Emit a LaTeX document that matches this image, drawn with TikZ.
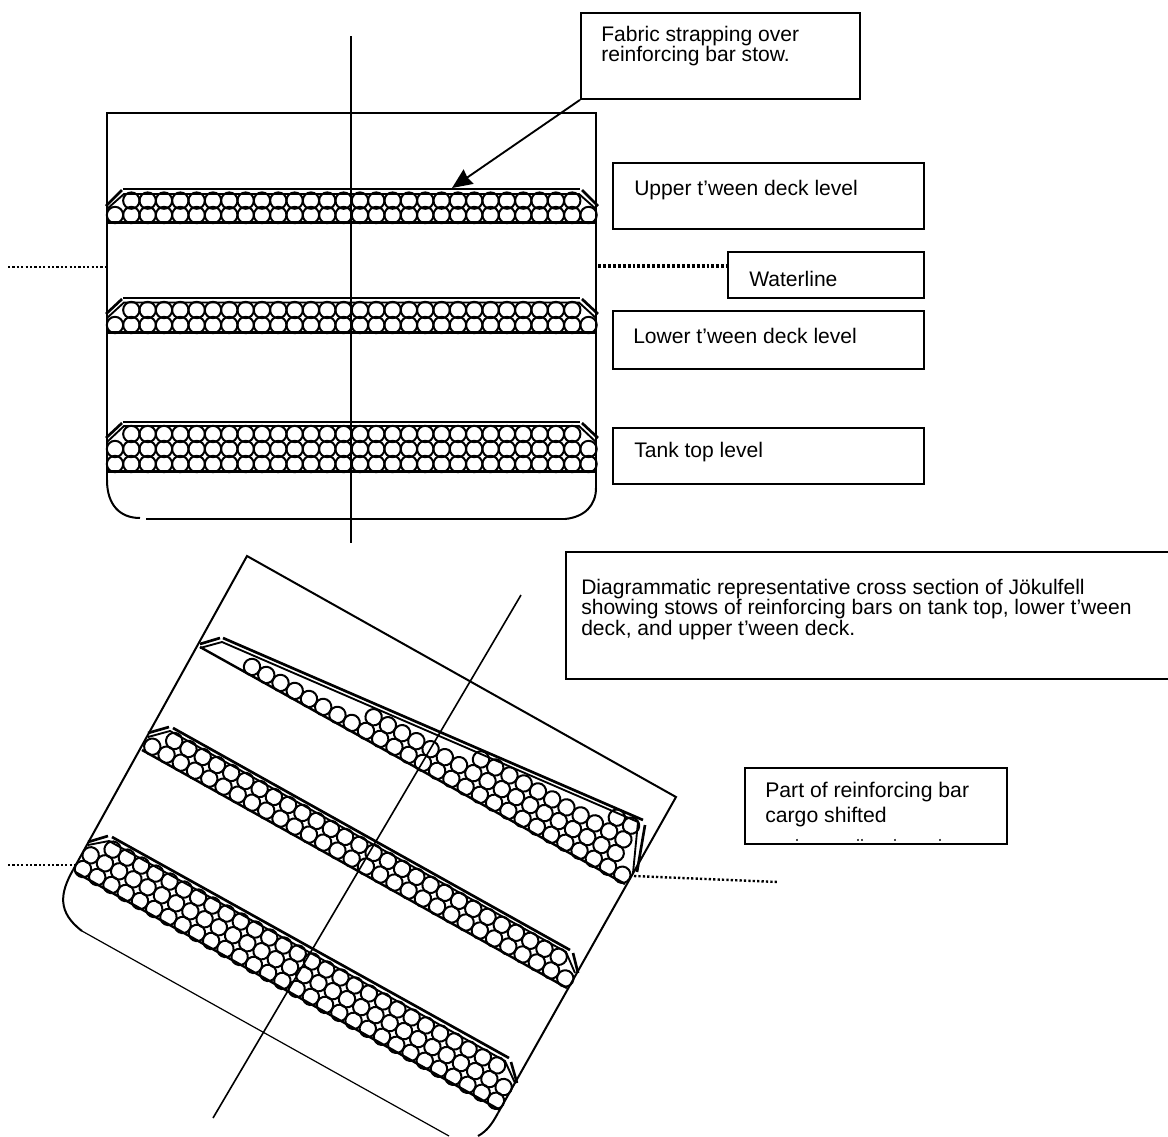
\documentclass[tikz,border=0pt]{standalone}
\usepackage{fontspec}
\setmainfont{Liberation Sans}
\usetikzlibrary{arrows.meta}
\tikzset{
  hull/.style={draw=black,line width=1.5pt,line join=miter},
  thinhull/.style={draw=black,line width=0.9pt},
  centre/.style={draw=black,line width=1.2pt},
  bar/.style={draw=black,line width=1.5pt},
  strapline/.style={draw=black,line width=2pt,line join=miter},
  innerstrap/.style={draw=black,line width=1.4pt,line join=miter},
  deckline/.style={draw=black,line width=1.8pt},
  box/.style={draw=black,line width=1.4pt,fill=white,rectangle,inner sep=0pt,anchor=north west},
  lbl/.style={font=\fontsize{15.8pt}{15.2pt}\selectfont,align=left,inner sep=0pt,anchor=north west},
  wline/.style={draw=black,line width=1.8pt,dash pattern=on 1.7pt off 1.6pt},
  wlinethick/.style={draw=black,line width=2.4pt,dash pattern=on 2.2pt off 1.5pt},
  leader/.style={draw=black,line width=1.4pt,-{Stealth[length=15pt,width=13pt,inset=1pt]}},
  level/.style={x={(0.75pt,0pt)},y={(0pt,0.75pt)}},
  listed/.style={x={(0.654pt,-0.367pt)},y={(0.367pt,0.654pt)}}
}
\newcommand{\barrow}[3]{\foreach \k in {#2,...,#3}{\draw[bar] (\k*16.33,#1*\rowstep) circle (8.2);}}
\begin{document}
\begin{tikzpicture}[x=0.75pt,y=-0.75pt]
\useasboundingbox (0,0) rectangle (1168,1136);
% ---------- upright hull
\draw[hull] (107,480) -- (107,113) -- (596,113) -- (596,488);
\draw[hull] (107,480) .. controls (107,505) and (120,518) .. (140,518);
\draw[hull] (146,519) -- (565,519);
\draw[hull] (596,488) .. controls (596,505) and (585,517) .. (565,519);
\draw[centre] (351,36) -- (351,543);
% upper t'ween stow
\begin{scope}[shift={(115,215)},level]
\def\rowstep{14.4}
\barrow{0}{0}{29}\barrow{1}{1}{28}
\end{scope}
\draw[deckline] (107,222.5) -- (596,222.5);
\draw[strapline] (123,189) -- (580,189);
\draw[strapline] (106,206) -- (122,190);
\draw[strapline] (582,190) -- (598,206);
\draw[innerstrap] (107,209) -- (124,194) -- (579,194) -- (596,209);
% lower t'ween stow
\begin{scope}[shift={(115,325)},level]
\def\rowstep{15}
\barrow{0}{0}{29}\barrow{1}{1}{28}
\end{scope}
\draw[deckline] (107,332.5) -- (596,332.5);
\draw[strapline] (123,298) -- (580,298);
\draw[strapline] (106,314) -- (122,299);
\draw[strapline] (582,299) -- (598,314);
\draw[innerstrap] (107,318) -- (124,302.5) -- (579,302.5) -- (596,318);
% tank top stow
\begin{scope}[shift={(115,464)},level]
\def\rowstep{15}
\barrow{0}{0}{29}\barrow{1}{0}{29}\barrow{2}{1}{28}
\end{scope}
\draw[deckline] (107,471.5) -- (596,471.5);
\draw[strapline] (123,422) -- (580,422);
\draw[strapline] (106,438) -- (122,423);
\draw[strapline] (582,423) -- (598,438);
\draw[innerstrap] (107,442) -- (124,426) -- (579,426) -- (596,442);
% ---------- listed hull
\draw[hull] (73,870) -- (247,556) -- (676,797) -- (498,1113);
\draw[hull] (73,870) .. controls (60,893) and (57,912) .. (82,931);
\draw[thinhull] (82,931) -- (449,1136);
\draw[hull] (498,1113) .. controls (492,1124) and (487,1131) .. (478,1136);
\draw[centre] (521,595) -- (213,1118);
% upper stow after shifting
\begin{scope}[shift={(209.3,643)},listed]
\def\rowstep{15.7}
\barrow{0}{3}{29}\barrow{1}{11}{28}\barrow{2}{18}{28}\barrow{3}{27}{28}
\end{scope}
\draw[deckline] (200,647) -- (625,884);
\draw[strapline] (200,644) -- (220,638);
\draw[strapline] (223,638) -- (643,820);
\draw[strapline] (645,825) -- (637,872);
\draw[innerstrap] (200,648) -- (222,642) -- (638,822) -- (633,873);
% lower stow after shifting
\begin{scope}[shift={(152.3,746.7)},listed]
\def\rowstep{15.7}
\barrow{0}{0}{29}\barrow{1}{1}{28}
\end{scope}
\draw[deckline] (142,750) -- (567,988);
\draw[strapline] (148,733) -- (169,727);
\draw[strapline] (173,728) -- (570,950);
\draw[strapline] (573,953) -- (578,973);
\draw[innerstrap] (148,737) -- (170,731) -- (566,952) -- (575,973);
% tank top stow after shifting
\begin{scope}[shift={(83,869)},listed]
\def\rowstep{15.7}
\barrow{0}{0}{29}\barrow{1}{0}{29}\barrow{2}{1}{28}
\end{scope}
\draw[deckline] (75,872) -- (500,1110);
\draw[strapline] (88,842) -- (108,836);
\draw[strapline] (112,837) -- (509,1058);
\draw[strapline] (511,1062) -- (517,1083);
\draw[innerstrap] (88,845) -- (109,841) -- (505,1061) -- (515,1083);
% ---------- boxes
\node[box,minimum width=279*0.75pt,minimum height=86*0.75pt] (fabric) at (580,12) {};
\node[lbl] at (601,26) {Fabric strapping over\\reinforcing bar stow.};
\node[box,minimum width=311*0.75pt,minimum height=66*0.75pt] (upper) at (612,162) {};
\node[lbl] at (634,180) {Upper t’ween deck level};
\node[box,minimum width=196*0.75pt,minimum height=46*0.75pt] (water) at (727,251) {};
\node[lbl] at (749,271) {Waterline};
\node[box,minimum width=311*0.75pt,minimum height=58*0.75pt] (lower) at (612,310) {};
\node[lbl] at (633,328) {Lower t’ween deck level};
\node[box,minimum width=311*0.75pt,minimum height=56*0.75pt] (tank) at (612,427) {};
\node[lbl] at (634,442) {Tank top level};
\node[box,minimum width=603*0.75pt,minimum height=127*0.75pt] (caption) at (565,551) {};
\node[lbl] at (581,579) {Diagrammatic representative cross section of Jökulfell\\showing stows of reinforcing bars on tank top, lower t’ween\\deck, and upper t’ween deck.};
\node[box,minimum width=262*0.75pt,minimum height=76*0.75pt] (shifted) at (744,767) {};
\node[lbl,font=\fontsize{15.9pt}{18.75pt}\selectfont] at (765,782) {Part of reinforcing bar\\cargo shifted};
\foreach \x in {797,858,862,895,940}{\draw[black!70,line width=1pt] (\x,838.5) -- (\x,840.5);}
% ---------- connectors
\coordinate (strappoint) at (452,188);
\draw[leader] (fabric.south west) -- (strappoint);
\coordinate (wallright) at (598,266);
\draw[wlinethick] (wallright) -- (water.west |- wallright);
\coordinate (wallleft) at (106,267);
\coordinate (seaupper) at (8,267);
\draw[wline] (seaupper) -- (wallleft);
\coordinate (seallow) at (8,865);
\coordinate (wallllow) at (76,865);
\draw[wline] (seallow) -- (wallllow);
\coordinate (wallrlow) at (634,876);
\coordinate (searlow) at (778,882);
\draw[wline] (wallrlow) -- (searlow);
\end{tikzpicture}
\end{document}
